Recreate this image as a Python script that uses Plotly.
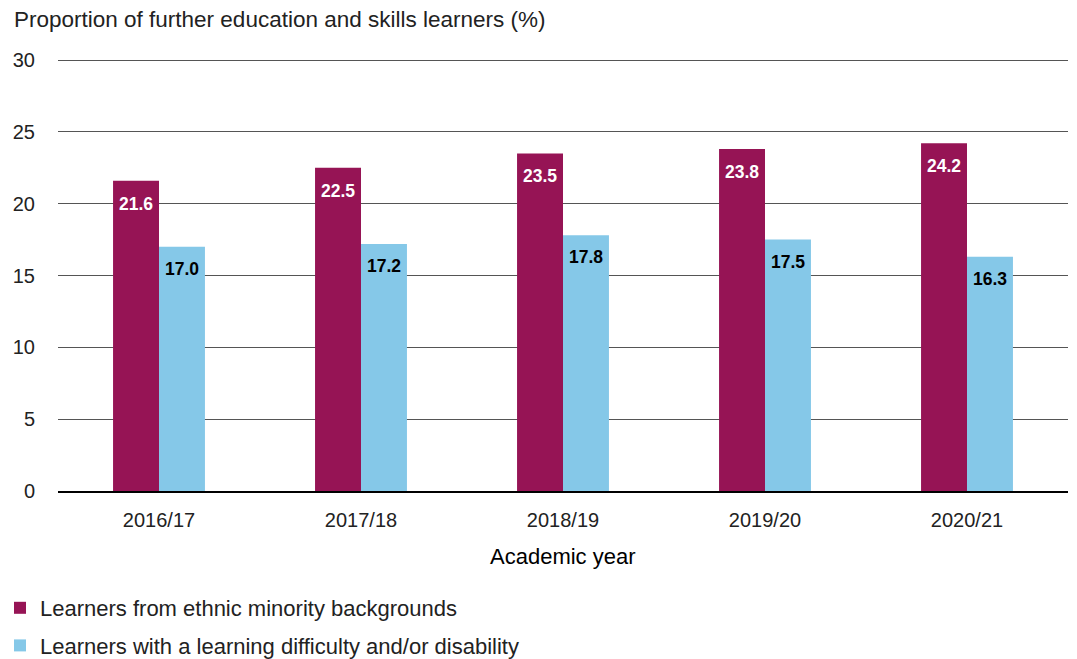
import plotly.graph_objects as go

years = ["2016/17", "2017/18", "2018/19", "2019/20", "2020/21"]
ethnic_minority = [21.6, 22.5, 23.5, 23.8, 24.2]
ldd = [17.0, 17.2, 17.8, 17.5, 16.3]
series_names = [
    "Learners from ethnic minority backgrounds",
    "Learners with a learning difficulty and/or disability",
]
y_ticks = [0, 5, 10, 15, 20, 25, 30]

MAGENTA = "#961455"
SKY = "#85C8E8"
FONT = "Liberation Sans, Arial, Helvetica, sans-serif"
TEXT = "#222222"

W, H = 1077, 659
PLOT_H = 433  # pixel height of the plotting area

fig = go.Figure()
fig.add_trace(go.Bar(
    x=years, y=ethnic_minority, name=series_names[0],
    marker=dict(color=MAGENTA, line=dict(width=0)),
    legendgroup="a",
))
fig.add_trace(go.Bar(
    x=years, y=ldd, name=series_names[1],
    marker=dict(color=SKY, line=dict(width=0)),
    legendgroup="b",
))

bargap = 0.545
half = (1 - bargap) / 4  # centre offset of each bar within its group
for i, (a, b) in enumerate(zip(ethnic_minority, ldd)):
    fig.add_annotation(x=i - half, y=a, text=f"{a:.1f}", showarrow=False,
                       yanchor="middle", yshift=-23,
                       font=dict(family=FONT, size=17.5, color="white", weight="bold"))
    fig.add_annotation(x=i + half, y=b, text=f"{b:.1f}", showarrow=False,
                       yanchor="middle", yshift=-22,
                       font=dict(family=FONT, size=17.5, color="black", weight="bold"))

# y-axis caption above the plot
fig.add_annotation(
    xref="paper", yref="paper", x=-46 / 1010, y=1 + 38 / PLOT_H,
    xanchor="left", yanchor="middle",
    text="Proportion of further education and skills learners (%)",
    showarrow=False, font=dict(family=FONT, size=22.5, color=TEXT),
)
# x-axis caption below the tick labels
fig.add_annotation(
    xref="paper", yref="paper", x=0.5, y=-65 / PLOT_H,
    xanchor="center", yanchor="middle",
    text="Academic year",
    showarrow=False, font=dict(family=FONT, size=22, color="black"),
)

fig.update_layout(
    width=W, height=H,
    margin=dict(l=58, r=9, t=58, b=168, autoexpand=False),
    paper_bgcolor="white", plot_bgcolor="white",
    barmode="group", bargap=bargap, bargroupgap=0,
    font=dict(family=FONT, color=TEXT),
    showlegend=True,
    legend=dict(
        orientation="v", xref="container", yref="container",
        x=0.0, y=1 - 587 / H,
        xanchor="left", yanchor="top",
        font=dict(family=FONT, size=22, color=TEXT),
        traceorder="grouped", tracegroupgap=6,
        bgcolor="rgba(0,0,0,0)",
    ),
    xaxis=dict(
        type="category", automargin=False,
        tickfont=dict(family=FONT, size=20, color=TEXT),
        showline=True, linecolor="black", linewidth=1.5,
        ticks="outside", ticklen=10, tickcolor="rgba(0,0,0,0)",
        showgrid=False,
    ),
    yaxis=dict(
        range=[0, 30.14], tickvals=y_ticks, automargin=False,
        tickfont=dict(family=FONT, size=20, color=TEXT),
        showgrid=True, gridcolor="#555555", gridwidth=1,
        zeroline=False,
        ticks="outside", ticklen=18, tickcolor="rgba(0,0,0,0)",
        layer="below traces",
    ),
)

fig.write_html("out.html")
